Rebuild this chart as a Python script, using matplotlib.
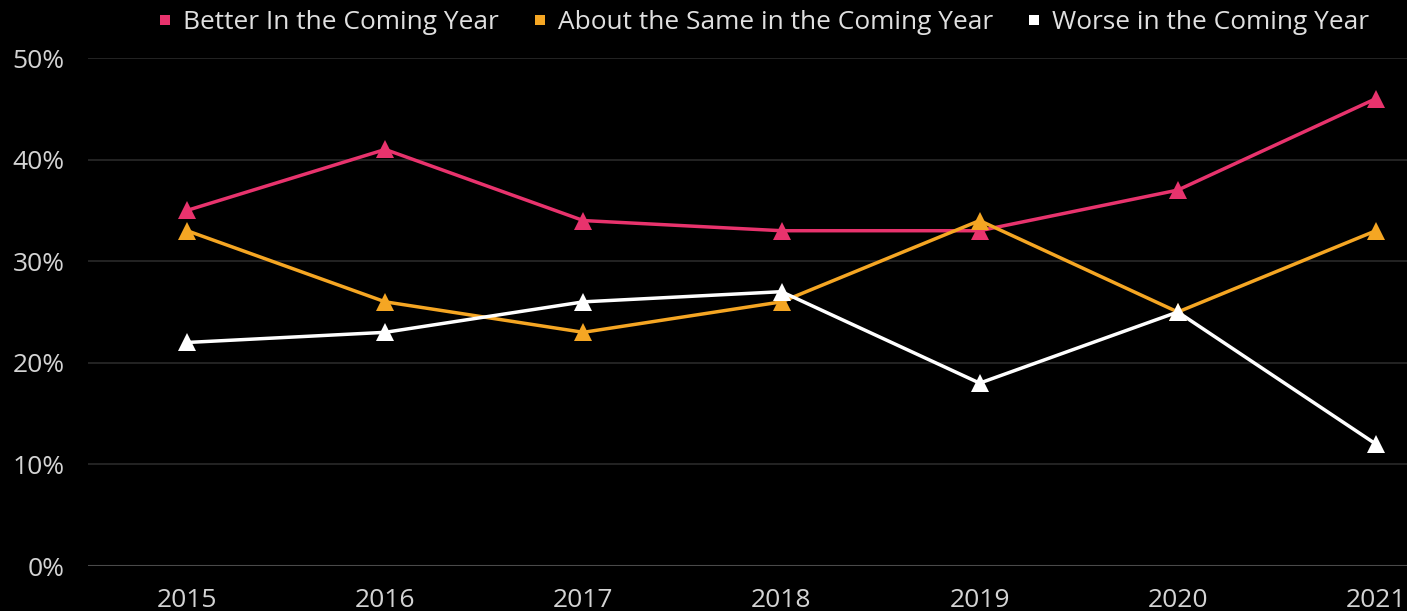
import matplotlib.pyplot as plt
from matplotlib.ticker import FuncFormatter

plt.rcParams['font.family'] = ['Open Sans', 'DejaVu Sans']

years = [2015, 2016, 2017, 2018, 2019, 2020, 2021]
better = [35, 41, 34, 33, 33, 37, 46]
same = [33, 26, 23, 26, 34, 25, 33]
worse = [22, 23, 26, 27, 18, 25, 12]

series_names = ['Better In the Coming Year',
                'About the Same in the Coming Year',
                'Worse in the Coming Year']
colors = ['#e8336d', '#f5a623', '#ffffff']

fig = plt.figure(figsize=(14.07, 6.11), dpi=100, facecolor='black')
ax = fig.add_axes([88 / 1407, 1 - 566 / 611, (1475 - 88) / 1407, (566 - 58) / 611])
ax.set_facecolor('black')

for vals, name, c in zip([better, same, worse], series_names, colors):
    ax.plot(years, vals, color=c, lw=2.5, marker='^', markersize=13,
            markeredgewidth=0, label=name, zorder=3)

ax.set_xlim(2014.5, 2021.5)
ax.set_ylim(0, 50)
ax.set_yticks(range(0, 51, 10))
ax.yaxis.set_major_formatter(FuncFormatter(lambda v, p: f'{int(v)}%'))
ax.set_xticks(years)

ax.grid(axis='y', color='#2a2a2a', lw=1.2)
ax.axhline(0, color='#4a4a4a', lw=1.5, zorder=2)
for s in ax.spines.values():
    s.set_visible(False)
ax.tick_params(length=0, colors='#d4d4d4', labelsize=19)
ax.tick_params(axis='y', pad=17)
ax.tick_params(axis='x', pad=16)

# legend with small square markers
handles = [plt.Line2D([], [], ls='none', marker='s', markersize=7,
                      color=c, markeredgewidth=0) for c in colors]
leg = fig.legend(handles, series_names, loc='center', bbox_to_anchor=(0.543, 0.963),
                 ncol=3, frameon=False, fontsize=18.9, handlelength=0.5,
                 handletextpad=0.45, columnspacing=1.3)
for t in leg.get_texts():
    t.set_color('#e0e0e0')

fig.savefig('out.png', dpi=100, facecolor='black')
